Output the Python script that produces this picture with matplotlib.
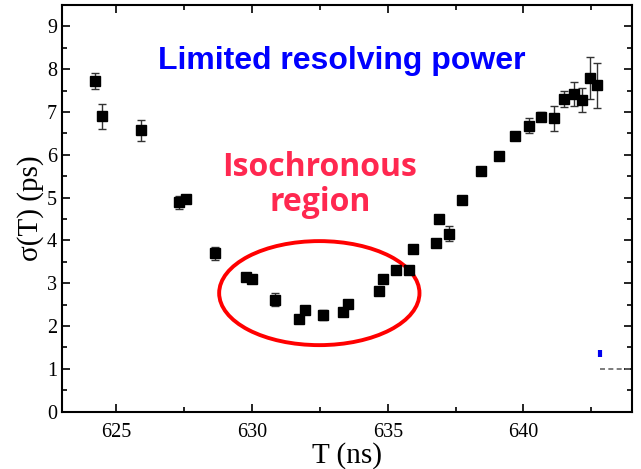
import matplotlib
matplotlib.use("Agg")
import matplotlib.pyplot as plt
from matplotlib.patches import Ellipse
from matplotlib.ticker import MultipleLocator

T_ns = [624.23, 624.46, 625.91, 627.31, 627.56, 628.64, 629.77, 630.01, 630.83,
        631.72, 631.97, 632.62, 633.34, 633.54, 634.69, 634.83, 635.31, 635.80,
        635.94, 636.79, 636.88, 637.25, 637.72, 638.45, 639.11, 639.68, 640.20,
        640.66, 641.11, 641.50, 641.86, 642.17, 642.44, 642.71]
sigma_ps = [7.72, 6.90, 6.57, 4.89, 4.98, 3.70, 3.14, 3.10, 2.62,
            2.16, 2.37, 2.26, 2.34, 2.51, 2.82, 3.10, 3.30, 3.30,
            3.79, 3.93, 4.50, 4.16, 4.94, 5.62, 5.97, 6.44, 6.68,
            6.89, 6.85, 7.30, 7.43, 7.27, 7.80, 7.62]
sigma_err = [0.19, 0.29, 0.24, 0.15, 0.04, 0.15, 0.06, 0.04, 0.15,
             0.03, 0.03, 0.12, 0.04, 0.03, 0.03, 0.03, 0.03, 0.05,
             0.03, 0.03, 0.03, 0.17, 0.03, 0.03, 0.10, 0.05, 0.17,
             0.10, 0.29, 0.19, 0.28, 0.28, 0.49, 0.53]

plt.rcParams['font.family'] = ['Liberation Serif', 'DejaVu Serif']

fig = plt.figure(figsize=(6.41, 4.69), dpi=100)
ax = fig.add_axes([62/641, 1 - 411.7/469, (632-62)/641, (411.7-5)/469])

ax.errorbar(T_ns, sigma_ps, yerr=sigma_err, fmt='s', color='black',
            ecolor='#333333', elinewidth=1.0, capsize=3, capthick=1.0,
            markersize=7, zorder=3)

ell = Ellipse((632.48, 2.77), 7.38, 2.43, fill=False, edgecolor='#FF0000', lw=2.8, zorder=2)
ax.add_patch(ell)

ax.plot([642.82, 644.0], [1.0, 1.0], ls=(0, (3, 2)), color='#666666', lw=1.2, clip_on=False)
ax.plot([642.82, 642.82], [1.28, 1.44], color='#0000EE', lw=3, solid_capstyle='butt')

ax.text(633.3, 8.2, 'Limited resolving power', color='#0000FF', fontsize=23,
        fontweight='bold', family=['Liberation Sans'], ha='center', va='center')
ax.text(632.5, 5.3, 'Isochronous\nregion', color='#FF2850', fontsize=23,
        fontweight='bold', family=['Open Sans'], ha='center', va='center',
        linespacing=1.08)

ax.set_xlim(623, 644)
ax.set_ylim(0, 9.5)
ax.xaxis.set_major_locator(MultipleLocator(5))
ax.xaxis.set_minor_locator(MultipleLocator(2.5))
ax.yaxis.set_major_locator(MultipleLocator(1))
ax.yaxis.set_minor_locator(MultipleLocator(0.5))
ax.tick_params(which='both', direction='in', top=True, right=True, labelsize=14.5)
ax.tick_params(which='major', length=6, width=1.2)
ax.tick_params(which='minor', length=3.5, width=1.2)
ax.tick_params(axis='x', which='major', pad=8)
for s in ax.spines.values():
    s.set_linewidth(1.5)

ax.set_xlabel('T (ns)', fontsize=21, labelpad=0)
ax.set_ylabel('σ(T) (ps)', fontsize=21, labelpad=2)

fig.savefig('out.png', dpi=100)
